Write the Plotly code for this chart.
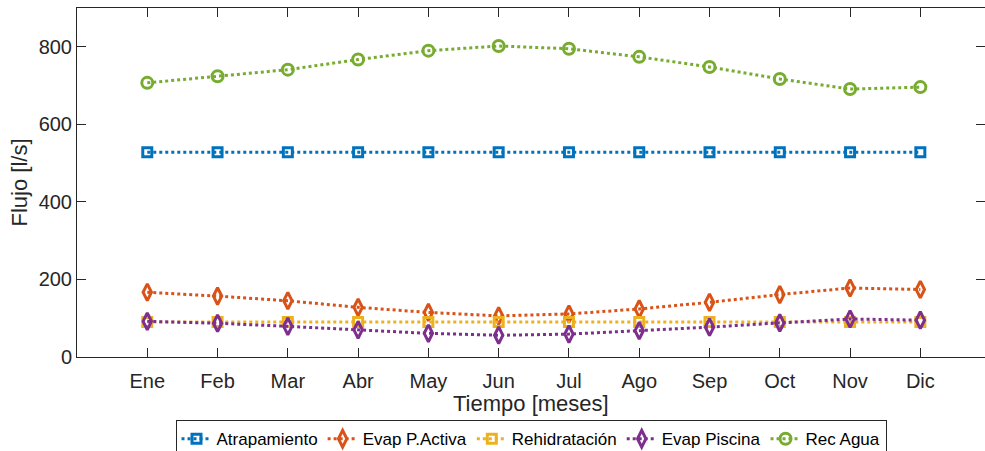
import plotly.graph_objects as go

months = ["Ene", "Feb", "Mar", "Abr", "May", "Jun", "Jul", "Ago", "Sep", "Oct", "Nov", "Dic"]
month_pos = list(range(1, 13))

atrapamiento = [528, 528, 528, 528, 528, 528, 528, 528, 528, 528, 528, 528]
evap_pactiva = [167, 157, 145, 128, 115, 106, 111, 124, 141, 161, 178, 174]
rehidratacion = [90, 90, 90, 90, 90, 90, 90, 90, 90, 90, 90, 90]
evap_piscina = [92, 87, 79, 70, 61, 56, 59, 68, 77, 88, 98, 95]
rec_agua = [707, 724, 741, 767, 790, 802, 795, 774, 748, 717, 691, 696]

y_ticks = [0, 200, 400, 600, 800]

series = [
    ("Atrapamiento", atrapamiento, "#0072BD", "square-open", 9),
    ("Evap P.Activa", evap_pactiva, "#D95319", "diamond-tall-open", 12),
    ("Rehidratación", rehidratacion, "#EDB120", "square-open", 9),
    ("Evap Piscina", evap_piscina, "#7E2F8E", "diamond-tall-open", 12),
    ("Rec Agua", rec_agua, "#77AC30", "circle-open", 11),
]

fig = go.Figure()
for name, vals, color, sym, size in series:
    fig.add_trace(go.Scatter(
        x=month_pos, y=vals, name=name, mode="lines+markers",
        line=dict(color=color, width=3, dash="dot"),
        marker=dict(symbol=sym, size=size, color=color,
                    line=dict(color=color, width=3)),
    ))

axis_color = "#262626"
font_family = "Liberation Sans, Arial, sans-serif"

fig.update_layout(
    width=985, height=451,
    margin=dict(l=77, r=0, t=8, b=94, autoexpand=False),
    paper_bgcolor="white", plot_bgcolor="white",
    font=dict(family=font_family, size=17, color=axis_color),
    showlegend=True,
    legend=dict(
        orientation="h", x=0.5, xanchor="center", y=-0.181, yanchor="top",
        bordercolor=axis_color, borderwidth=1, bgcolor="white",
        font=dict(size=17, color="#000000"),
        itemwidth=30, tracegroupgap=0,
    ),
    annotations=[dict(
        text="Tiempo [meses]", xref="paper", yref="paper", x=0.5, y=-0.132,
        xanchor="center", yanchor="middle", showarrow=False,
        font=dict(size=22, color=axis_color),
    )],
)
fig.update_xaxes(
    range=[0, 12.92], tickmode="array", tickvals=month_pos, ticktext=months,
    showgrid=False, zeroline=False, showline=True, linecolor=axis_color, linewidth=1,
    mirror="ticks", ticks="inside", ticklen=9, tickcolor=axis_color, automargin=False,
    ticklabelstandoff=6,
    tickfont=dict(size=20, color=axis_color),
)
fig.update_yaxes(
    range=[0, 900], tickmode="array", tickvals=y_ticks,
    showgrid=False, zeroline=False, showline=True, linecolor=axis_color, linewidth=1,
    mirror="ticks", ticks="inside", ticklen=9, tickcolor=axis_color, automargin=False,
    tickfont=dict(size=20, color=axis_color),
    title=dict(text="Flujo [l/s]", font=dict(size=22, color=axis_color), standoff=4),
)

fig.write_html("out.html")
